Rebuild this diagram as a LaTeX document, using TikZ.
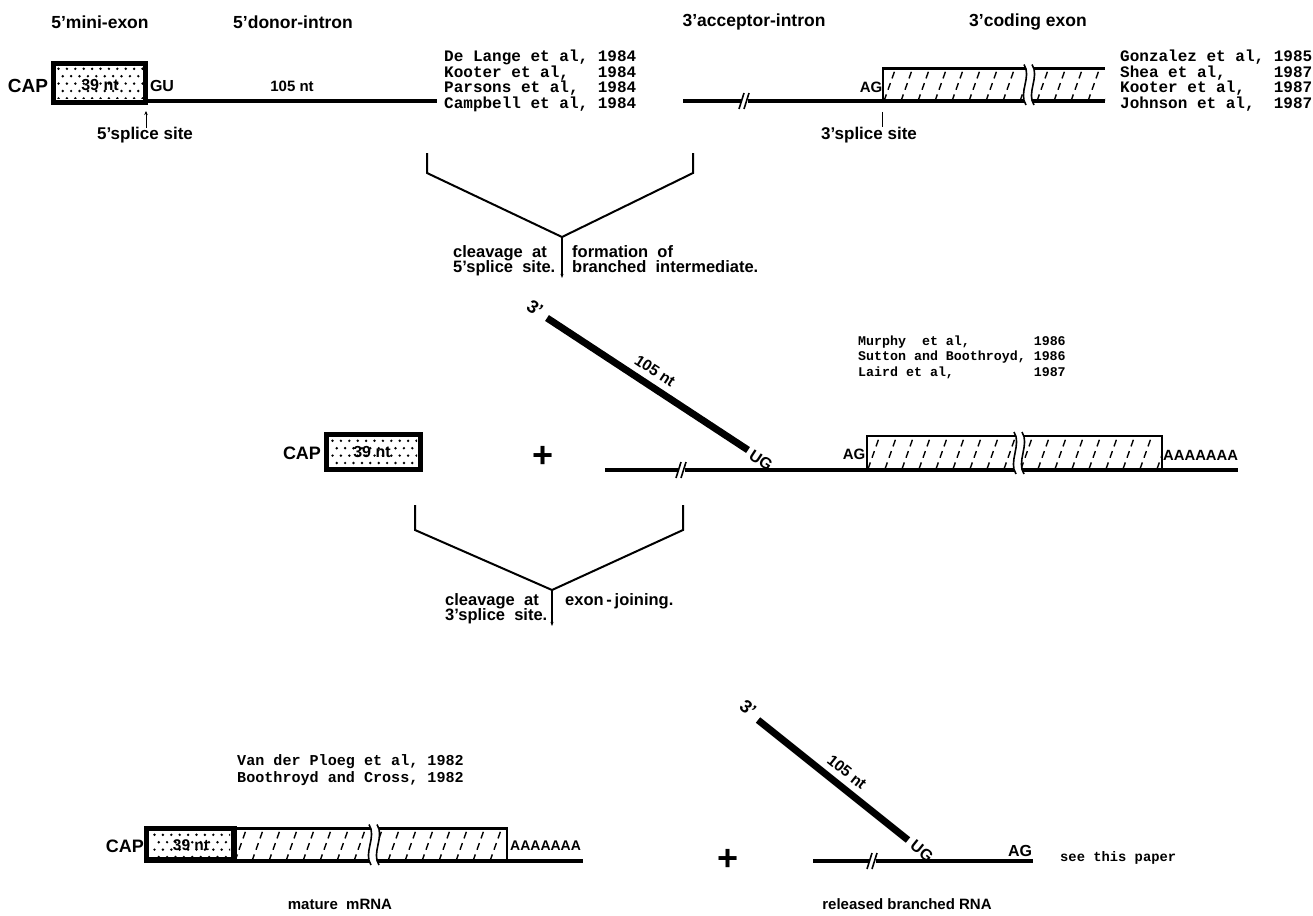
\documentclass[tikz,border=0pt]{standalone}
\usepackage{fontspec}
\setmainfont{Liberation Sans}
\newfontfamily\refmono{Liberation Mono}
\usetikzlibrary{arrows.meta}
\newcommand\myfs[1]{\fontsize{#1}{#1}\selectfont}
\tikzset{
  ttl/.style={font=\bfseries\myfs{17.5}, inner sep=0pt},
  lbl/.style={font=\bfseries\myfs{15}, inner sep=0pt},
  note/.style={font=\bfseries\myfs{16.5}, inner sep=0pt, anchor=base west},
  refA/.style={font=\refmono\bfseries\fontsize{16}{13}\selectfont, inner sep=0pt, anchor=base west},
  refB/.style={font=\refmono\bfseries\fontsize{13.3}{15.5}\selectfont, inner sep=0pt, anchor=base west},
  refC/.style={font=\refmono\bfseries\fontsize{15.1}{17}\selectfont, inner sep=0pt, anchor=base west},
  plussign/.style={font=\bfseries\myfs{36}, inner sep=0pt},
  rna/.style={line width=4pt},
  thinrna/.style={line width=3.5pt},
  boxline/.style={line width=2.5pt},
  thickbox/.style={line width=5.5pt},
  brkline/.style={line width=1.6pt},
  bracketline/.style={line width=2pt},
  branchline/.style={line width=7pt},
  hatchline/.style={line width=1.4pt, dash pattern=on 7pt off 5pt},
  tickline/.style={line width=1pt},
}
\newcommand\mystipple[4]{%
  \begin{scope}
    \clip (#1,#2) rectangle (#3,#4);
    \foreach \sa in {0,...,5}{\foreach \sb in {0,...,13}{%
      \fill ({#1+2.5+\sb*8.4+4.2*mod(\sa,2)},{#2+2.8+\sa*7.4}) circle (1.35);}}
  \end{scope}}
\newcommand\myhatch[4]{%
  \begin{scope}
    \clip (#1,#2) rectangle (#3,#4);
    \foreach \hk in {-2,...,20}{\draw[hatchline] ({#1+\hk*17},#4) -- ++(16,-45);}
  \end{scope}}
\newcommand\mywave[3]{%
  \fill[white] (#1-1,#2-4) .. controls (#1+7,#2+8) and (#1-7,#3-8) .. (#1+1,#3+4)
    -- (#1+9,#3+4) .. controls (#1+1,#3-8) and (#1+15,#2+8) .. (#1+7,#2-4) -- cycle;
  \draw[line width=1.6pt] (#1-1,#2-4) .. controls (#1+7,#2+8) and (#1-7,#3-8) .. (#1+1,#3+4);
  \draw[line width=1.6pt] (#1+7,#2-4) .. controls (#1+15,#2+8) and (#1+1,#3-8) .. (#1+9,#3+4);}
\newcommand\slashbrk[2]{%
  \fill[white] (#1-1,#2-3) rectangle (#1+5,#2+3);
  \draw[brkline] (#1-4,#2+8) -- (#1+1,#2-8);
  \draw[brkline] (#1+1,#2+8) -- (#1+6,#2-8);}
\begin{document}
\begin{tikzpicture}[x=1pt,y=-1pt]
\useasboundingbox (0,0) rectangle (1313,915);
\fill[white] (0,0) rectangle (1313,915);

% ---------- titles ----------
\node[ttl] (t1) at (100,22) {5'mini-exon};
\node[ttl] (t2) at (293,22) {5'donor-intron};
\node[ttl] (t3) at (754,22) {3'acceptor-intron};
\node[ttl] (t4) at (1028,22) {3'coding exon};

% ---------- top left: pre-mRNA 5' part ----------
\mystipple{56}{66}{143}{99}
\draw[thickbox] (53.5,63.5) rectangle (145.5,102.5);
\draw[rna] (145.5,101) -- (437,101);
\node[lbl, font=\bfseries\myfs{19}] (cap1) at (28,86) {CAP};
\node[lbl, font=\bfseries\myfs{16}] (nt1) at (100,85) {39 nt};
\node[lbl, font=\bfseries\myfs{16}] (gu) at (162,86) {GU};
\node[lbl] (l105) at (292,86) {105 nt};
\coordinate (ss5a) at (146,128);
\coordinate (ss5b) at (146,111);
\draw[tickline, -{Stealth[length=4pt,width=3.5pt]}] (ss5a) -- (ss5b);
\node[lbl, font=\bfseries\myfs{17}] (ss5) at (145,135) {5'splice site};
\node[refA] (refs1) at (444,62) {\begin{tabular}[t]{@{}l@{\ }l@{}}De Lange et al, & 1984\\ Kooter et al, & 1984\\ Parsons et al, & 1984\\ Campbell et al, & 1984\end{tabular}};

% ---------- top right: 3' part ----------
\draw[rna] (683,101) -- (883,101);
\slashbrk{743}{101}
\myhatch{884}{69}{1105}{101}
\draw[boxline] (883,101) -- (883,68.5) -- (1105,68.5);
\draw[rna] (883,101) -- (1105,101);
\mywave{1025}{68.5}{101}
\node[lbl] (ag1) at (871,87) {AG};
\coordinate (ss3a) at (882,112);
\coordinate (ss3b) at (882,127);
\draw[tickline] (ss3a) -- (ss3b);
\node[lbl, font=\bfseries\myfs{17}] (ss3) at (869,135) {3'splice site};
\node[refA] (refs2) at (1120,62) {\begin{tabular}[t]{@{}l@{\ }l@{}}Gonzalez et al, & 1985\\ Shea et al, & 1987\\ Kooter et al, & 1987\\ Johnson et al, & 1987\end{tabular}};

% ---------- bracket 1 ----------
\coordinate (b1l) at (427,153);
\coordinate (b1lk) at (427,173);
\coordinate (b1j) at (562,237);
\coordinate (b1rk) at (693,173);
\coordinate (b1r) at (693,153);
\coordinate (b1s) at (562,278);
\draw[bracketline] (b1l) -- (b1lk) -- (b1j) -- (b1rk) -- (b1r);
\draw[bracketline, -{Stealth[length=4pt,width=3pt]}] (b1j) -- (b1s);
\node[note] (c1a) at (453,257) {cleavage\ \ at};
\node[note] (c1b) at (453,272) {5'splice\ \ site.};
\node[note] (c1c) at (572,257) {formation\ \ of};
\node[note] (c1d) at (572,272) {branched\ \ intermediate.};

% ---------- middle row ----------
\mystipple{330}{438}{417}{466}
\draw[thickbox] (326.5,434.5) rectangle (420.5,469.5);
\node[lbl, font=\bfseries\myfs{18}] (cap2) at (302,453) {CAP};
\node[lbl, font=\bfseries\myfs{16}] (nt2) at (372,452) {39 nt};
\node[plussign] (plus1) at (543,457) {+};

\coordinate (br1a) at (547,318);
\coordinate (br1b) at (748,450);
\draw[branchline] (br1a) -- (br1b);
\node[lbl, font=\bfseries\myfs{18}, rotate=-33.3] (th1) at (535,308) {3'};
\node[lbl, font=\bfseries\myfs{15.5}, rotate=-33.3] (n105b) at (655,371) {105 nt};
\node[lbl, font=\bfseries\myfs{16}, rotate=-33.3] (ug1) at (761,460) {UG};

\myhatch{868}{436}{1162}{469}
\draw[thinrna] (605,470) -- (1238,470);
\slashbrk{680}{470}
\draw[boxline] (867,470) -- (867,436) -- (1162,436) -- (1162,470);
\mywave{1015}{436}{470}
\node[lbl] (ag2) at (854,454) {AG};
\node[lbl, font=\bfseries\myfs{14.8}, anchor=west] (pa1) at (1163,455) {AAAAAAA};
\node[refB] (refs3) at (858,345) {\begin{tabular}[t]{@{}l@{\ }l@{}}Murphy\ \ et al, & 1986\\ Sutton and Boothroyd, & 1986\\ Laird et al, & 1987\end{tabular}};

% ---------- bracket 2 ----------
\coordinate (b2l) at (415,505);
\coordinate (b2lk) at (415,530);
\coordinate (b2j) at (552,590);
\coordinate (b2rk) at (683,530);
\coordinate (b2r) at (683,505);
\coordinate (b2s) at (552,626);
\draw[bracketline] (b2l) -- (b2lk) -- (b2j) -- (b2rk) -- (b2r);
\draw[bracketline, -{Stealth[length=4pt,width=3pt]}] (b2j) -- (b2s);
\node[note] (c2a) at (445,605) {cleavage\ \ at};
\node[note] (c2b) at (445,620) {3'splice\ \ site.};
\node[note] (c2c) at (565,605) {exon\,-\,joining.};

% ---------- bottom left: mature mRNA ----------
\node[refC] (refs4) at (237,765) {\begin{tabular}[t]{@{}l@{}}Van der Ploeg et al, 1982\\ Boothroyd and Cross, 1982\end{tabular}};
\mystipple{152}{832}{230}{857}
\myhatch{235}{829}{507}{861}
\draw[boxline] (234,828.5) -- (507,828.5) -- (507,861);
\draw[rna] (146,861) -- (583,861);
\draw[thickbox] (146.5,828.5) rectangle (234,860);
\mywave{370}{828.5}{861}
\node[lbl, font=\bfseries\myfs{18}] (cap3) at (125,846) {CAP};
\node[lbl, font=\bfseries\myfs{15.5}] (nt3) at (191,845) {39 nt};
\node[lbl, font=\bfseries\myfs{14}, anchor=west] (pa2) at (510,846) {AAAAAAA};
\node[lbl] (mat) at (340,904) {mature\ \ mRNA};

% ---------- bottom right: released branched RNA ----------
\node[plussign] (plus2) at (728,860) {+};
\coordinate (br2a) at (758,720);
\coordinate (br2b) at (908,840);
\draw[branchline] (br2a) -- (br2b);
\node[lbl, font=\bfseries\myfs{18}, rotate=-38.7] (th2) at (748,708) {3'};
\node[lbl, font=\bfseries\myfs{15.5}, rotate=-38.7] (n105c) at (847,772) {105 nt};
\node[lbl, font=\bfseries\myfs{16}, rotate=-38.7] (ug2) at (922,851) {UG};
\draw[thinrna] (813,861) -- (1033,861);
\slashbrk{871}{861}
\node[lbl, font=\bfseries\myfs{16}] (ag3) at (1020,851) {AG};
\node[font=\refmono\bfseries\myfs{13.8}, inner sep=0pt, anchor=west] (see) at (1060,858) {see this paper};
\node[lbl] (rel) at (907,904) {released branched RNA};
\end{tikzpicture}
\end{document}
